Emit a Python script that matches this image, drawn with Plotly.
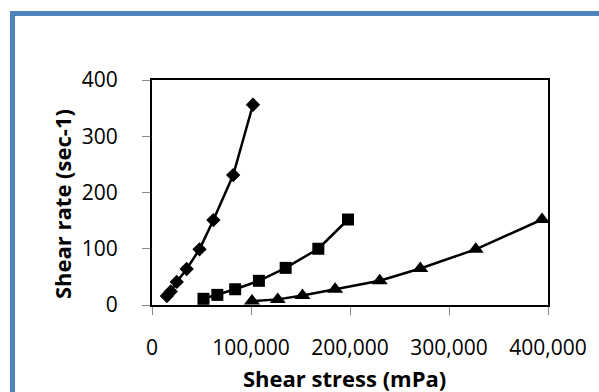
import plotly.graph_objects as go

# Data
stress_diamond = [15000, 19000, 25000, 35000, 48000, 62000, 82000, 102000]
rate_diamond = [16, 24, 41, 64, 99, 151, 231, 356]

stress_square = [52000, 66000, 84000, 108000, 135000, 168000, 198000]
rate_square = [11, 18, 28, 43, 66, 100, 152]

stress_triangle = [101000, 127000, 152000, 185000, 230000, 271000, 327000, 394000]
rate_triangle = [7, 10, 17, 28, 43, 65, 99, 152]

x_ticks = [0, 100000, 200000, 300000, 400000]
y_ticks = [0, 100, 200, 300, 400]

FONT = "Open Sans"

fig = go.Figure()
series = [
    (stress_diamond, rate_diamond, "diamond", 11),
    (stress_square, rate_square, "square", 12),
    (stress_triangle, rate_triangle, "triangle-up", 14),
]
for xs, ys, sym, sz in series:
    fig.add_trace(go.Scatter(
        x=xs, y=ys, mode="lines+markers",
        line=dict(color="black", width=2.5),
        marker=dict(symbol=sym, size=sz, color="black"),
        showlegend=False,
    ))

# plot area in pixels: left 152, right 548, top 80, bottom 305
L, R, T, B = 152, 548, 80, 305
W, H = 599, 392
def px(xp):
    return (xp - L) / (R - L)
def py(yp):
    return (B - yp) / (B - T)

fig.update_layout(
    width=W, height=H,
    margin=dict(l=L, r=W - R, t=T, b=H - B),
    paper_bgcolor="white", plot_bgcolor="white",
    font=dict(family=FONT, color="black"),
    xaxis=dict(
        range=[0, 400000], tickvals=x_ticks, tickformat=",",
        showgrid=False, zeroline=False,
        showline=True, linecolor="black", linewidth=2, mirror=True,
        ticks="outside", ticklen=8, tickcolor="#888888", tickwidth=1,
        tickfont=dict(family=FONT, size=21, color="black"),
        ticklabelstandoff=15,
    ),
    yaxis=dict(
        range=[0, 400], tickvals=y_ticks,
        showgrid=False, zeroline=False,
        showline=True, linecolor="black", linewidth=2, mirror=True,
        ticks="outside", ticklen=8, tickcolor="#888888", tickwidth=1,
        tickfont=dict(family=FONT, size=21, color="black"),
        ticklabelstandoff=20,
    ),
    shapes=[dict(
        type="rect", xref="paper", yref="paper",
        x0=px(12.5), x1=px(660), y0=py(13.5), y1=py(440),
        line=dict(color="#4F81BD", width=5), fillcolor="rgba(0,0,0,0)",
        layer="above",
    )],
    annotations=[
        dict(text="<b>Shear stress (mPa)</b>", xref="paper", yref="paper",
             x=px(344), y=py(378), showarrow=False,
             font=dict(family=FONT, size=22, color="black"),
             xanchor="center", yanchor="middle"),
        dict(text="<b>Shear rate (sec-1)</b>", xref="paper", yref="paper",
             x=px(62), y=py(204), showarrow=False, textangle=-90,
             font=dict(family=FONT, size=22, color="black"),
             xanchor="center", yanchor="middle"),
    ],
)

fig.write_html("out.html")
